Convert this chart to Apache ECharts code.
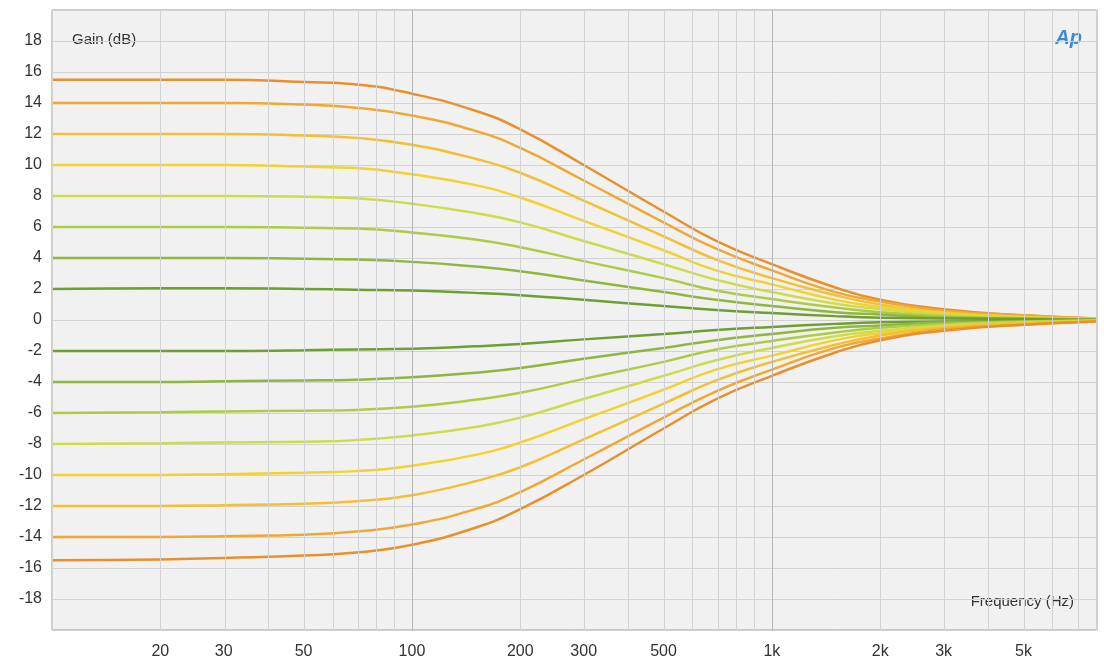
<!DOCTYPE html>
<html><head><meta charset="utf-8">
<script src="https://cdn.jsdelivr.net/npm/echarts@6/dist/echarts.min.js"></script>
<style>html,body{margin:0;padding:0;background:#fff}#chart{width:1104px;height:665px}</style>
</head><body><div id="chart"></div>
<script>
const freqs = [10,20,30,50,70,100,150,200,300,500,700,1000,1500,2000,3000,5000,8000];
const tickFreqs = [20,30,50,100,200,300,500,1000,2000,3000,5000];
const tickLabels = ['20','30','50','100','200','300','500','1k','2k','3k','5k'];

const p155 = [15.5,15.5,15.5,15.35,15.2,14.6,13.5,12.3,10,7,5.1,3.6,2.1,1.3,0.7,0.3,0.1];
const p14 = [14,14,14,13.9,13.7,13.2,12.2,11.1,9,6.3,4.6,3.2,1.8,1.2,0.6,0.3,0.1];
const p12 = [12,12,12,11.9,11.75,11.3,10.4,9.5,7.7,5.4,3.9,2.7,1.6,1,0.5,0.2,0.1];
const p10 = [10,10,10,9.9,9.8,9.4,8.7,7.9,6.4,4.5,3.2,2.3,1.3,0.85,0.45,0.2,0.05];
const p8 = [8,8,8,7.95,7.85,7.5,6.9,6.3,5.1,3.6,2.6,1.8,1.05,0.7,0.35,0.15,0.05];
const p6 = [6,6,6,5.95,5.9,5.65,5.2,4.7,3.8,2.7,1.9,1.35,0.8,0.5,0.25,0.1,0.05];
const p4 = [4,4,4,3.95,3.9,3.75,3.45,3.15,2.55,1.8,1.3,0.9,0.5,0.35,0.15,0.1,0];
const p2 = [2,2.05,2.05,2,1.95,1.9,1.75,1.6,1.3,0.9,0.65,0.45,0.25,0.15,0.1,0.05,0];
const n2 = [-2,-2,-2,-1.95,-1.9,-1.85,-1.7,-1.55,-1.25,-0.9,-0.65,-0.45,-0.25,-0.15,-0.1,-0.05,0];
const n4 = [-4,-4,-3.95,-3.9,-3.85,-3.7,-3.4,-3.1,-2.5,-1.8,-1.3,-0.9,-0.5,-0.35,-0.15,-0.1,0];
const n6 = [-6,-5.95,-5.9,-5.85,-5.8,-5.6,-5.15,-4.7,-3.8,-2.7,-1.9,-1.35,-0.8,-0.5,-0.25,-0.1,-0.05];
const n8 = [-8,-7.95,-7.9,-7.85,-7.75,-7.45,-6.9,-6.3,-5.1,-3.6,-2.6,-1.8,-1.05,-0.7,-0.35,-0.15,-0.05];
const n10 = [-10,-10,-9.95,-9.85,-9.75,-9.4,-8.7,-7.9,-6.4,-4.5,-3.2,-2.3,-1.3,-0.85,-0.45,-0.2,-0.05];
const n12 = [-12,-12,-11.95,-11.85,-11.7,-11.3,-10.4,-9.5,-7.7,-5.4,-3.9,-2.7,-1.6,-1,-0.5,-0.2,-0.1];
const n14 = [-14,-14,-13.95,-13.85,-13.65,-13.2,-12.2,-11.1,-9,-6.3,-4.6,-3.2,-1.8,-1.2,-0.6,-0.3,-0.1];
const n155 = [-15.5,-15.45,-15.35,-15.2,-15,-14.5,-13.4,-12.2,-10,-7,-5.1,-3.6,-2.1,-1.3,-0.7,-0.3,-0.1];

const curves = [
  [p155,'#e8902c'],[p14,'#f0a832'],[p12,'#f4bf30'],[p10,'#f1d22e'],
  [p8,'#cddc48'],[p6,'#aecb44'],[p4,'#8fb63e'],[p2,'#6f9e32'],
  [n2,'#6f9e32'],[n4,'#8fb63e'],[n6,'#aecb44'],[n8,'#cddc48'],
  [n10,'#f1d22e'],[n12,'#f4bf30'],[n14,'#f0a832'],[n155,'#e8902c']
];

const gridFreqs = [];
[10,100,1000].forEach(d => { for (let m = 1; m <= 9; m++) if (d*m <= 8000) gridFreqs.push(d*m); });

const chart = echarts.init(document.getElementById('chart'));
const series = curves.map(([vals, color]) => ({
  type: 'line', smooth: true, symbol: 'none', silent: true,
  lineStyle: {color: color, width: 2.5},
  data: freqs.map((f, i) => [Math.log10(f), vals[i]])
}));
series.push({
  type: 'line', data: [], silent: true,
  markLine: {
    silent: true, symbol: 'none', label: {show: false},
    data: gridFreqs.map(f => ({
      xAxis: Math.log10(f),
      lineStyle: {type: 'solid', width: 1, color: (f === 100 || f === 1000) ? '#b4b4b4' : '#d2d2d2'}
    }))
  }
});

chart.setOption({
  backgroundColor: '#ffffff',
  animation: false,
  grid: {left: 52, right: 7, top: 10, bottom: 35, show: true, backgroundColor: '#f1f1f1', borderColor: '#9a9a9a', borderWidth: 1},
  xAxis: {
    type: 'value', min: 1, max: Math.log10(8000),
    axisLine: {show: false}, axisTick: {show: false}, splitLine: {show: false},
    axisLabel: {
      customValues: tickFreqs.map(f => Math.log10(f)),
      color: '#333', fontSize: 16, fontFamily: 'Liberation Sans', margin: 14,
      formatter: v => {
        const i = tickFreqs.findIndex(f => Math.abs(Math.log10(f) - v) < 1e-6);
        return i >= 0 ? tickLabels[i] : '';
      }
    }
  },
  yAxis: {
    type: 'value', min: -20, max: 20, interval: 2,
    axisLine: {show: false}, axisTick: {show: false},
    splitLine: {lineStyle: {color: '#d2d2d2', width: 1}},
    axisLabel: {color: '#333', fontSize: 16, fontFamily: 'Liberation Sans', margin: 10,
      formatter: v => (v === 20 || v === -20) ? '' : String(v)}
  },
  graphic: [
    {type: 'text', left: 72, top: 32, style: {text: 'Gain (dB)', fill: '#333', font: '15px Liberation Sans'}},
    {type: 'text', right: 30, top: 594, style: {text: 'Frequency (Hz)', fill: '#333', font: '15px Liberation Sans'}},
    {type: 'text', right: 22, top: 28, style: {text: 'Ap', fill: '#3a8ad6', font: 'italic bold 20px Liberation Sans'}}
  ],
  series: series
});
</script></body></html>
